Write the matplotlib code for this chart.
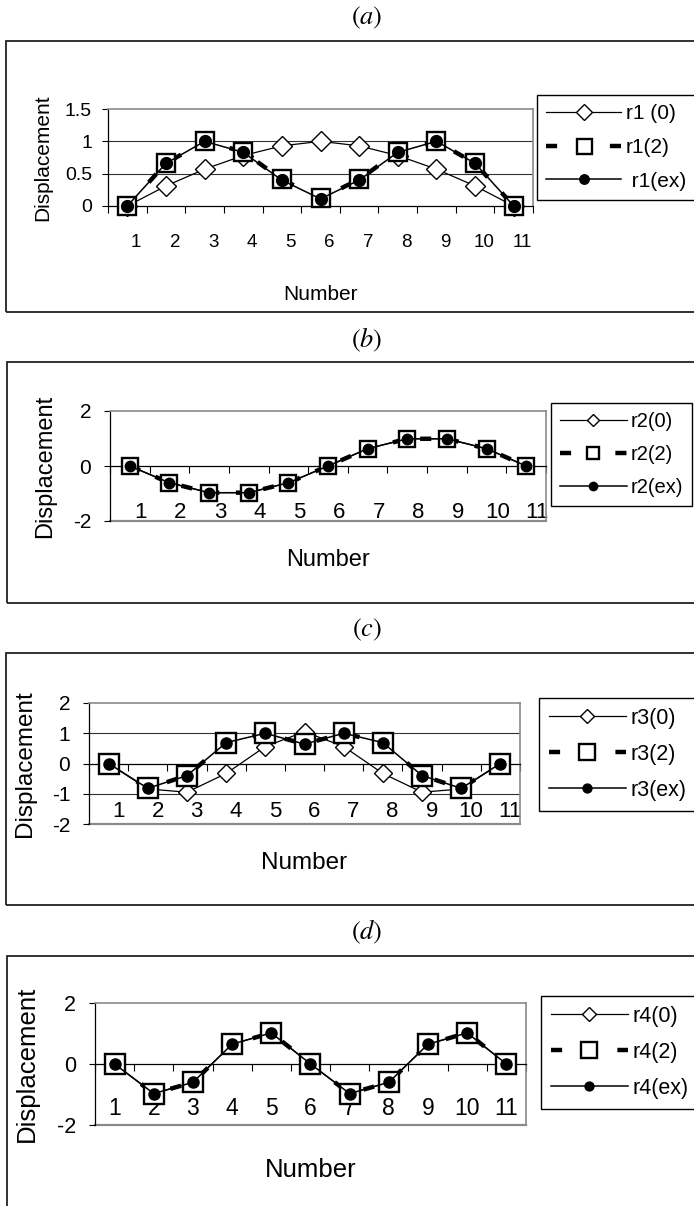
import matplotlib
matplotlib.use('Agg')
import matplotlib.pyplot as plt
from matplotlib.patches import Rectangle

plt.rcParams['font.family'] = ['Liberation Sans', 'DejaVu Sans']
plt.rcParams['mathtext.fontset'] = 'stix'
plt.rcParams['lines.scale_dashes'] = False

# data
number = [1, 2, 3, 4, 5, 6, 7, 8, 9, 10, 11]

r1_0 = [0, 0.31, 0.57, 0.78, 0.93, 1.0, 0.93, 0.78, 0.57, 0.31, 0]
r1_2 = [0, 0.66, 1.0, 0.84, 0.41, 0.12, 0.41, 0.84, 1.0, 0.66, 0]
r1_ex = [0, 0.66, 1.0, 0.83, 0.40, 0.11, 0.40, 0.83, 1.0, 0.66, 0]

r2_0 = [0, -0.61, -0.97, -0.97, -0.61, 0, 0.63, 0.99, 0.99, 0.63, 0]
r2_2 = [0, -0.61, -0.97, -0.97, -0.61, 0, 0.63, 0.99, 0.99, 0.63, 0]
r2_ex = [0, -0.61, -0.97, -0.97, -0.61, 0, 0.63, 0.99, 0.99, 0.63, 0]

r3_0 = [0, -0.84, -0.95, -0.33, 0.56, 1.05, 0.56, -0.33, -0.95, -0.84, 0]
r3_2 = [0, -0.82, -0.40, 0.69, 1.0, 0.64, 1.0, 0.69, -0.40, -0.82, 0]
r3_ex = [0, -0.82, -0.40, 0.69, 1.0, 0.64, 1.0, 0.69, -0.40, -0.82, 0]

r4_0 = [0, -0.97, -0.60, 0.65, 1.02, 0, -0.97, -0.60, 0.65, 1.02, 0]
r4_2 = [0, -0.97, -0.60, 0.65, 1.02, 0, -0.97, -0.60, 0.65, 1.02, 0]
r4_ex = [0, -0.97, -0.60, 0.65, 1.02, 0, -0.97, -0.60, 0.65, 1.02, 0]

W, H = 694, 1206
fig = plt.figure(figsize=(W / 100, H / 100), dpi=100, facecolor='white')


def fx(x):
    return x / W


def fy(y):
    return 1 - y / H


def draw_panel(p):
    # outer box of the panel
    x0, y0, x1, y1 = p['box']
    fig.patches.append(Rectangle((fx(x0), fy(y1)), fx(x1 - x0), (y1 - y0) / H, fill=False,
                                 edgecolor='#222222', lw=1.3, transform=fig.transFigure))
    fig.text(fx(367), fy(p['title_y']), p['title'], ha='center', va='center', fontsize=19)

    ax_l, ax_t, ax_r, ax_b = p['axes']
    ax = fig.add_axes([fx(ax_l), fy(ax_b), (ax_r - ax_l) / W, (ax_b - ax_t) / H])
    ax.set_xlim(0.5, 11.5)
    ax.set_ylim(*p['ylim'])

    # dash pattern chosen so the legend handle shows a dash at each end
    dash = 8
    gap = (p['hlen'] * p['legfs'] - 3 * dash) / 2

    s0, s2, sex = p['series']
    names = p['names']
    ms = p['ms']
    ax.plot(number, s0, color='black', lw=0.9, marker='D', ms=ms[0], mfc='white', mec='black',
            mew=1.0, label=names[0], zorder=3, clip_on=False)
    ax.plot(number, s2, color='black', lw=3.2, linestyle=(0, (dash, gap)), marker='s', ms=ms[1],
            mfc='white', mec='black', mew=1.7, label=names[1], zorder=4, clip_on=False)
    ax.plot(number, sex, color='black', lw=1.1, marker='o', ms=ms[2], mfc='black', mec='black',
            label=names[2], zorder=5, clip_on=False)

    for g in p['grid']:
        ax.axhline(g, color='#333333', lw=0.8, zorder=1)

    for side in ['top', 'right']:
        ax.spines[side].set_color('#8a8a8a')
        ax.spines[side].set_linewidth(1.2)
    ax.spines['left'].set_color('black')
    ax.spines['left'].set_linewidth(0.9)
    ax.spines['bottom'].set_position(('data', 0))
    ax.spines['bottom'].set_color('black')
    ax.spines['bottom'].set_linewidth(0.9)
    if p['ylim'][0] < 0:
        ax.axhline(p['ylim'][0], color='#8a8a8a', lw=1.6, zorder=1, clip_on=False)

    ax.set_yticks(p['yticks'])
    ax.set_yticklabels(p['ylabels'])
    ax.tick_params(axis='y', direction='out', length=4.5, width=0.8, pad=p['ypad'],
                   labelsize=p['yfs'], colors='black')

    ax.set_xticks([n + p['xoff'] for n in number])
    ax.set_xticklabels([str(n) for n in number])
    ax.set_xticks([n + 0.5 for n in range(0, 12)], minor=True)
    ax.tick_params(axis='x', which='major', length=0, pad=p['xpad'], labelsize=p['xfs'])
    ax.tick_params(axis='x', which='minor', direction='out', length=5, width=0.8)

    ax.set_xlabel('Number', fontsize=p['lfs'])
    ax.xaxis.label.set_va('center')
    ax.xaxis.set_label_coords(0.5, (ax_b - p['xl_y']) / (ax_b - ax_t))
    ax.set_ylabel('Displacement', fontsize=p['lfs'])
    ax.yaxis.label.set_va('center')
    ax.yaxis.set_label_coords((p['yl_x'] - ax_l) / (ax_r - ax_l), 0.5)

    lx, ly = p['legend']
    leg = ax.legend(loc='upper left', bbox_to_anchor=(fx(lx), fy(ly)), bbox_transform=fig.transFigure,
                    borderaxespad=0, fontsize=p['legfs'], frameon=True, fancybox=False,
                    edgecolor='black', framealpha=1, handlelength=p['hlen'], handletextpad=0.2,
                    borderpad=0.45, labelspacing=0.7, markerscale=0.8)
    leg.get_frame().set_linewidth(1.0)


panels = [
    dict(title=r'$(a)$', title_y=18, box=(6, 41, 730, 312), axes=(108, 109, 533, 206),
         ylim=(0, 1.5), yticks=[0, 0.5, 1, 1.5], ylabels=['0', '0.5', '1', '1.5'], grid=[0.5, 1.0],
         series=(r1_0, r1_2, r1_ex), names=['r1 (0)', 'r1(2)', ' r1(ex)'], ms=(10.5, 13.5, 8.5),
         xoff=0.23, xpad=20, ypad=7, xfs=13.5, yfs=14, lfs=15, legfs=15, hlen=3.6,
         xl_y=295, yl_x=43, legend=(537, 95)),
    dict(title=r'$(b)$', title_y=340, box=(7, 362, 730, 603), axes=(110, 411, 546, 521),
         ylim=(-2, 2), yticks=[-2, 0, 2], ylabels=['-2', '0', '2'], grid=[],
         series=(r2_0, r2_2, r2_ex), names=['r2(0)', 'r2(2)', 'r2(ex)'], ms=(8, 11, 7.5),
         xoff=0.28, xpad=26, ypad=9, xfs=16, yfs=15, lfs=17, legfs=14.5, hlen=3.3,
         xl_y=560, yl_x=45, legend=(551, 403)),
    dict(title=r'$(c)$', title_y=630, box=(6, 653, 730, 905), axes=(89, 703, 520, 824),
         ylim=(-2, 2), yticks=[-2, -1, 0, 1, 2], ylabels=['-2', '-1', '0', '1', '2'], grid=[-1, 1],
         series=(r3_0, r3_2, r3_ex), names=['r3(0)', 'r3(2)', 'r3(ex)'], ms=(9, 14, 8),
         xoff=0.25, xpad=27, ypad=9, xfs=16, yfs=15, lfs=17.5, legfs=15.5, hlen=3.6,
         xl_y=863, yl_x=25, legend=(539, 698)),
    dict(title=r'$(d)$', title_y=932, box=(7, 956, 730, 1240), axes=(95, 1003, 526, 1125),
         ylim=(-2, 2), yticks=[-2, 0, 2], ylabels=['-2', '0', '2'], grid=[],
         series=(r4_0, r4_2, r4_ex), names=['r4(0)', 'r4(2)', 'r4(ex)'], ms=(9, 14, 8),
         xoff=0.0, xpad=24, ypad=9, xfs=16.5, yfs=15.5, lfs=18.5, legfs=15.5, hlen=3.6,
         xl_y=1170, yl_x=27, legend=(541, 996)),
]

for panel in panels:
    draw_panel(panel)

fig.savefig('out.png', dpi=100, facecolor='white')
